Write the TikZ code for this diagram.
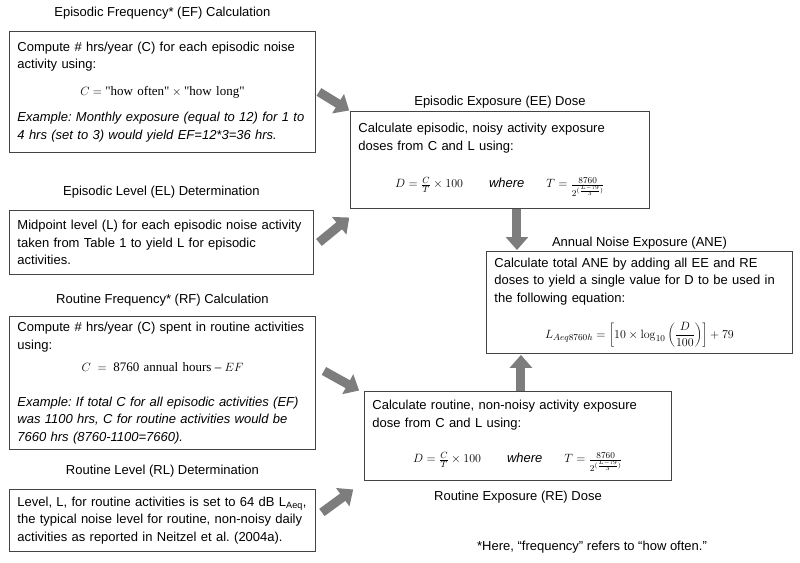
\documentclass[tikz,border=0pt]{standalone}
\usepackage[no-math]{fontspec}
\setmainfont{Liberation Sans}
\newfontfamily\formfont[Ligatures=TeXOff]{Liberation Serif}
\usetikzlibrary{positioning,arrows.meta}
\frenchspacing

\definecolor{boxline}{RGB}{68,68,68}
\definecolor{arrowgray}{RGB}{125,125,125}

% dose formula, used in both exposure boxes
\newcommand{\doseeq}{\makebox[\linewidth]{$D=\frac{C}{T}\times 100$\hspace{26pt}\textit{where}\hspace{22pt}$T=\frac{8760}{\rule{0pt}{9pt}2^{(\frac{L-79}{3})}}$}}

\begin{document}
\begin{tikzpicture}[
        x=1pt, y=-1pt,
        panel/.style={draw=boxline, line width=0.9pt, anchor=north west, align=left, inner xsep=8pt, inner ysep=0pt, font=\fontsize{13}{17.5}\selectfont},
        heading/.style={inner sep=0pt, text height=9.5pt, text depth=3pt, font=\fontsize{13}{15}\selectfont},
        fatarrow/.style={draw=arrowgray, line width=9pt, -{Triangle[length=13pt,width=22pt]}, shorten >=1pt}
    ]
        \useasboundingbox (0,0) rectangle (800,562);

        % Left column: frequency and level inputs
        \node[panel, text width=290pt, minimum height=121pt] (ef) at (9,31) {Compute \# hrs/year (C) for each episodic noise\\ activity using:\\[9pt]
            \makebox[\linewidth]{$C=\mbox{\formfont "how often"}\times\mbox{\formfont "how long"}$}\\[9pt]
            {\itshape Example: Monthly exposure (equal to 12) for 1 to\\ 4 hrs (set to 3) would yield EF=12*3=36 hrs.}};
        \node[heading, above=11pt of ef] (ef-title) {Episodic Frequency* (EF) Calculation};

        \node[panel, text width=288pt, minimum height=64pt] (el) at (9,210) {Midpoint level (L) for each episodic noise activity\\ taken from Table 1 to yield L for episodic\\ activities.};
        \node[heading, above=11pt of el] (el-title) {Episodic Level (EL) Determination};

        \node[panel, text width=290pt, minimum height=133pt] (rf) at (9,316) {Compute \# hrs/year (C) spent in routine activities\\ using:\\[5pt]
            \makebox[\linewidth]{$C\;=\;\mbox{\formfont 8760 annual hours}\;\mbox{\formfont –}\;EF$}\\[17pt]
            {\itshape Example: If total C for all episodic activities (EF)\\ was 1100 hrs, C for routine activities would be\\ 7660 hrs (8760-1100=7660).}};
        \node[heading, above=9pt of rf] (rf-title) {Routine Frequency* (RF) Calculation};

        \node[panel, text width=290pt, minimum height=62pt] (rl) at (9,489) {Level, L, for routine activities is set to 64 dB L\textsubscript{Aeq},\\ the typical noise level for routine, non-noisy daily\\ activities as reported in Neitzel et al. (2004a).};
        \node[heading, above=11pt of rl] (rl-title) {Routine Level (RL) Determination};

        % Right column: doses and annual exposure
        \node[panel, text width=283pt, minimum height=97pt] (ee) at (350,111) {Calculate episodic, noisy activity exposure\\ doses from C and L using:\\[20pt] \doseeq\par\vspace{4pt}};
        \node[heading, above=2pt of ee] (ee-title) {Episodic Exposure (EE) Dose};

        \node[panel, text width=290pt, minimum height=102pt] (ane) at (486,251) {Calculate total ANE by adding all EE and RE\\ doses to yield a single value for D to be used in\\ the following equation:\\[16pt]
            \makebox[\linewidth]{$\displaystyle L_{Aeq8760h}=\left[10\times\log_{10}\left(\frac{D}{100}\right)\right]+79$}};
        \node[heading, above=1pt of ane] (ane-title) {Annual Noise Exposure (ANE)};

        \node[panel, text width=291pt, minimum height=89pt] (re) at (364,391) {Calculate routine, non-noisy activity exposure\\ dose from C and L using:\\[18pt] \doseeq};
        \node[heading, below=10pt of re] (re-title) {Routine Exposure (RE) Dose};

        \node[heading] (note) at (592,547) {*Here, ``frequency'' refers to ``how often.''};

        % Block arrows between the boxes
        \draw[fatarrow] ([xshift=3pt]ef.east) -- (ee.north west);
        \draw[fatarrow] ([xshift=5pt]el.east) -- ([yshift=-8pt]ee.south west);
        \draw[fatarrow] ([xshift=8pt,yshift=12pt]rf.east) -- ([xshift=-4pt]re.north west);
        \draw[fatarrow] ([xshift=6pt,yshift=8pt]rl.east) -- ([xshift=-10pt,yshift=-8pt]re.south west);

        \coordinate (ee-out) at ([xshift=17pt]ee.south);
        \draw[fatarrow] (ee-out) -- (ee-out |- ane.north);
        \coordinate (re-out) at ([xshift=3pt]re.north);
        \draw[fatarrow] (re-out) -- (re-out |- ane.south);
    \end{tikzpicture}
\end{document}
